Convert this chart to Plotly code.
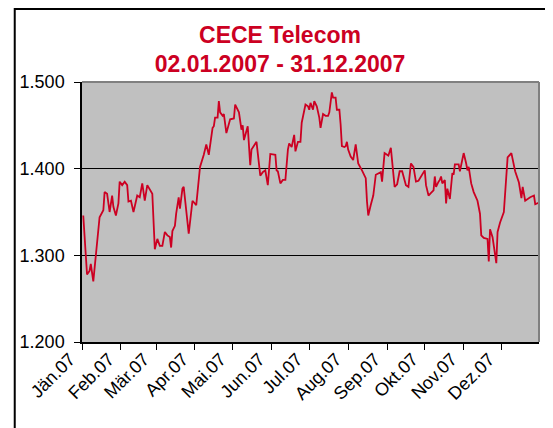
import plotly.graph_objects as go

dates = [
    "2007-01-02", "2007-01-04", "2007-01-05", "2007-01-07", "2007-01-08", "2007-01-10", "2007-01-12",
    "2007-01-15", "2007-01-18", "2007-01-19", "2007-01-21", "2007-01-23", "2007-01-25", "2007-01-26",
    "2007-01-28", "2007-01-30", "2007-01-31", "2007-02-02", "2007-02-04", "2007-02-06", "2007-02-07",
    "2007-02-09", "2007-02-11", "2007-02-14", "2007-02-16", "2007-02-18", "2007-02-20", "2007-02-22",
    "2007-02-26", "2007-02-28", "2007-03-02", "2007-03-04", "2007-03-06", "2007-03-08", "2007-03-10",
    "2007-03-12", "2007-03-13", "2007-03-14", "2007-03-16", "2007-03-17", "2007-03-19", "2007-03-20",
    "2007-03-22", "2007-03-23", "2007-03-27", "2007-03-30", "2007-04-02", "2007-04-03", "2007-04-05",
    "2007-04-08", "2007-04-10", "2007-04-12", "2007-04-15", "2007-04-16", "2007-04-17", "2007-04-19",
    "2007-04-20", "2007-04-21", "2007-04-23", "2007-04-24", "2007-04-26", "2007-04-29", "2007-05-02",
    "2007-05-03", "2007-05-06", "2007-05-08", "2007-05-09", "2007-05-10", "2007-05-13", "2007-05-15",
    "2007-05-16", "2007-05-20", "2007-05-23", "2007-05-25", "2007-05-27", "2007-05-29", "2007-05-31",
    "2007-06-04", "2007-06-05", "2007-06-06", "2007-06-08", "2007-06-10", "2007-06-12", "2007-06-14",
    "2007-06-15", "2007-06-17", "2007-06-19", "2007-06-20", "2007-06-22", "2007-06-24", "2007-06-25",
    "2007-06-28", "2007-06-30", "2007-07-01", "2007-07-02", "2007-07-04", "2007-07-05", "2007-07-07",
    "2007-07-09", "2007-07-10", "2007-07-12", "2007-07-14", "2007-07-16", "2007-07-17", "2007-07-19",
    "2007-07-20", "2007-07-22", "2007-07-23", "2007-07-25", "2007-07-26", "2007-07-27", "2007-07-29",
    "2007-07-30", "2007-07-31", "2007-08-01", "2007-08-03", "2007-08-05", "2007-08-07", "2007-08-09",
    "2007-08-12", "2007-08-15", "2007-08-16", "2007-08-17", "2007-08-19", "2007-08-21", "2007-08-23",
    "2007-08-25", "2007-08-27", "2007-08-28", "2007-08-30", "2007-09-01", "2007-09-02", "2007-09-04",
    "2007-09-07", "2007-09-09", "2007-09-11", "2007-09-13", "2007-09-16", "2007-09-18", "2007-09-20",
    "2007-09-22", "2007-09-24", "2007-09-26", "2007-10-01", "2007-10-02", "2007-10-04", "2007-10-06",
    "2007-10-08", "2007-10-09", "2007-10-10", "2007-10-12", "2007-10-13", "2007-10-14", "2007-10-15",
    "2007-10-17", "2007-10-18", "2007-10-19", "2007-10-21", "2007-10-23", "2007-10-24", "2007-10-25",
    "2007-10-28", "2007-10-29", "2007-11-01", "2007-11-03", "2007-11-04", "2007-11-05", "2007-11-07",
    "2007-11-09", "2007-11-12", "2007-11-14", "2007-11-15", "2007-11-17", "2007-11-20", "2007-11-21",
    "2007-11-22", "2007-11-24", "2007-11-27", "2007-11-28", "2007-11-30", "2007-12-03", "2007-12-06",
    "2007-12-09", "2007-12-11", "2007-12-12", "2007-12-15", "2007-12-17", "2007-12-18", "2007-12-20",
    "2007-12-24", "2007-12-27", "2007-12-28", "2007-12-31",
]

values = [
    1346, 1307, 1278, 1282, 1290, 1270, 1303,
    1344, 1352, 1373, 1371, 1350, 1369, 1356,
    1346, 1360, 1385, 1381, 1385, 1381, 1362,
    1363, 1350, 1369, 1367, 1383, 1363, 1381,
    1371, 1307, 1319, 1311, 1311, 1327, 1323,
    1321, 1309, 1328, 1334, 1348, 1367, 1354,
    1377, 1379, 1325, 1363, 1358, 1375, 1402,
    1416, 1428, 1416, 1447, 1449, 1459, 1459,
    1478, 1465, 1461, 1463, 1441, 1457, 1458,
    1474, 1465, 1445, 1450, 1433, 1449, 1404,
    1422, 1431, 1392, 1396, 1398, 1381, 1417,
    1416, 1398, 1397, 1383, 1387, 1387, 1422,
    1429, 1425, 1439, 1420, 1431, 1431, 1453,
    1474, 1472, 1468, 1476, 1468, 1478, 1472,
    1459, 1447, 1463, 1461, 1461, 1465, 1488,
    1482, 1482, 1468, 1468, 1451, 1426, 1425,
    1426, 1431, 1422, 1414, 1410, 1428, 1406,
    1398, 1389, 1362, 1346, 1358, 1369, 1393,
    1395, 1396, 1385, 1418, 1416, 1415, 1424,
    1379, 1382, 1397, 1397, 1381, 1379, 1406,
    1402, 1385, 1386, 1398, 1381, 1369, 1372,
    1375, 1391, 1379, 1385, 1387, 1391, 1383,
    1387, 1360, 1377, 1365, 1395, 1393, 1405,
    1405, 1397, 1418, 1406, 1398, 1402, 1383,
    1373, 1363, 1348, 1323, 1320, 1319, 1293,
    1330, 1321, 1291, 1327, 1338, 1350, 1413,
    1418, 1405, 1397, 1384, 1366, 1379, 1363,
    1367, 1369, 1359, 1361,
]

month_ticks = ["2007-01-01", "2007-02-01", "2007-03-01", "2007-04-01", "2007-05-01", "2007-06-01",
               "2007-07-01", "2007-08-01", "2007-09-01", "2007-10-01", "2007-11-01", "2007-12-01"]
month_labels = ["Jän.07", "Feb.07", "Mär.07", "Apr.07", "Mai.07", "Jun.07",
                "Jul.07", "Aug.07", "Sep.07", "Okt.07", "Nov.07", "Dez.07"]
y_ticks = [1200, 1300, 1400, 1500]

RED = "#CC0022"
FONT = "Liberation Sans, Arial, sans-serif"

fig = go.Figure()
fig.add_trace(go.Scatter(x=dates, y=values, mode="lines",
                         line=dict(color=RED, width=1.8), hoverinfo="skip"))

# the page body adds an 8px margin, so the figure is sized to fit the window
W, H = 545, 420
L, R, T, B = 69, 14, 74, 86
pw, ph = W - L - R, H - T - B

fig.update_layout(
    width=W, height=H,
    margin=dict(l=L, r=R, t=T, b=B, pad=0),
    paper_bgcolor="white",
    plot_bgcolor="#C0C0C0",
    separators=",.",
    showlegend=False,
    font=dict(family=FONT, size=18, color="black"),
    title=dict(text="CECE Telecom<br>02.01.2007 - 31.12.2007",
               x=272 / W, xref="container", xanchor="center",
               y=1 - 34.5 / H, yref="container", yanchor="top",
               font=dict(family=FONT, size=23, color=RED, weight="bold")),
    xaxis=dict(type="date", range=["2007-01-01", "2007-12-31"],
               tickvals=month_ticks, ticktext=month_labels, tickangle=-45,
               ticks="outside", ticklen=6, tickcolor="black", tickwidth=1,
               showline=True, linecolor="black", linewidth=1.5,
               showgrid=False, zeroline=False,
               ticklabelshift=-12, ticklabelstandoff=-8,
               tickfont=dict(family=FONT, size=18, color="black")),
    yaxis=dict(range=[1200, 1500], tickvals=y_ticks, tickformat=",d",
               ticks="outside", ticklen=6, tickcolor="black", tickwidth=1,
               showline=True, linecolor="black", linewidth=1.5,
               showgrid=True, gridcolor="black", gridwidth=1,
               zeroline=False, ticklabelstandoff=6,
               tickfont=dict(family=FONT, size=18, color="black")),
)

# plot-area frame (top and right) in gray
fig.add_shape(type="line", xref="paper", yref="paper", x0=0, x1=1, y0=1, y1=1,
              line=dict(color="#808080", width=2))
fig.add_shape(type="line", xref="paper", yref="paper", x0=1, x1=1, y0=0, y1=1,
              line=dict(color="#808080", width=2))
# outer chart border (top and left visible, continues past the image edge)
fig.add_shape(type="rect", xref="paper", yref="paper",
              x0=(1 - L) / pw, x1=(W + 10 - L) / pw,
              y0=(H - B - (H + 10)) / ph, y1=(H - B - 1) / ph,
              line=dict(color="black", width=2), layer="below")

fig.write_html("out.html")
